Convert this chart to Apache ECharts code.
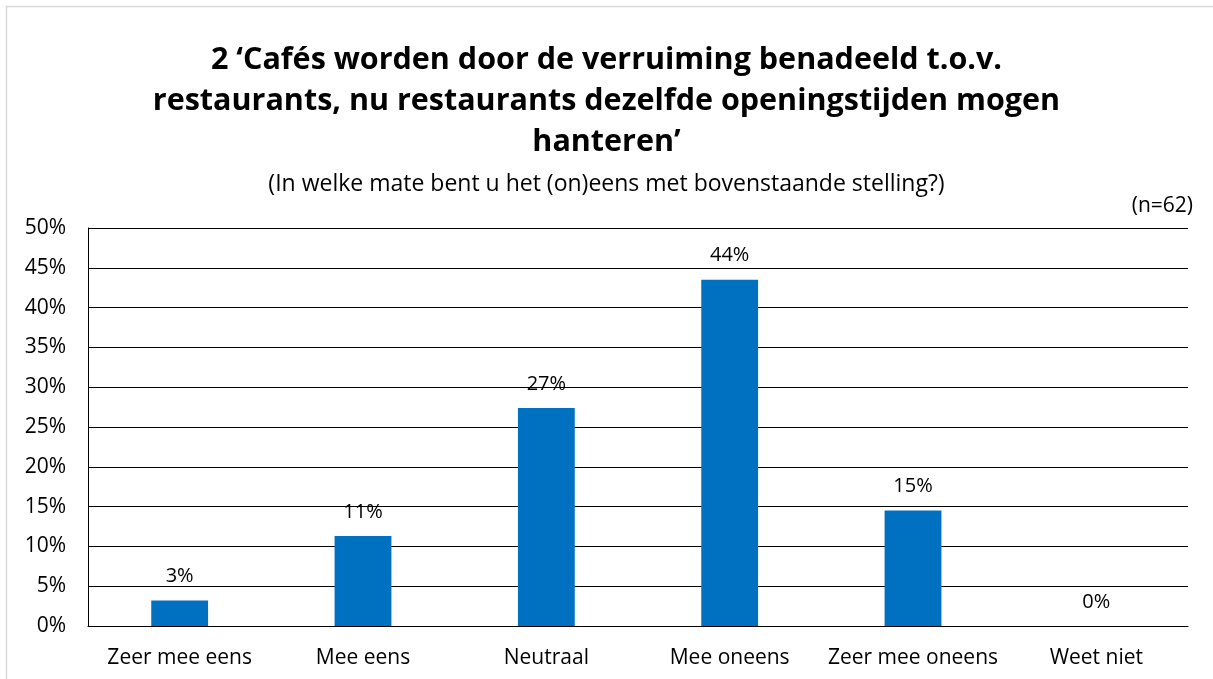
<!DOCTYPE html>
<html>
<head>
<meta charset="utf-8">
<script src="https://cdn.jsdelivr.net/npm/echarts@6/dist/echarts.min.js"></script>
<style>
  html, body { margin: 0; padding: 0; background: #fff; }
  #chart { width: 1213px; height: 679px; }
</style>
</head>
<body>
<div id="chart"></div>
<script>
// antwoordcategorieën en percentages (n=62)
const categories = ['Zeer mee eens', 'Mee eens', 'Neutraal', 'Mee oneens', 'Zeer mee oneens', 'Weet niet']
const percentages = [3.2, 11.3, 27.4, 43.5, 14.5, 0]
const valueLabels = ['3%', '11%', '27%', '44%', '15%', '0%']

const titleLines = [
  '2 \u2018Cafés worden door de verruiming benadeeld t.o.v.',
  'restaurants, nu restaurants dezelfde openingstijden mogen',
  'hanteren\u2019'
]
const subtitleText = '(In welke mate bent u het (on)eens met bovenstaande stelling?)'
const sampleText = '(n=62)'

const FONT = '"Open Sans", "Noto Sans", sans-serif'

const chart = echarts.init(document.getElementById('chart'))

chart.setOption({
  backgroundColor: '#fff',
  animation: false,
  textStyle: { fontFamily: FONT },
  title: [
    {
      text: titleLines.join('\n'),
      left: 'center',
      top: 35,
      textStyle: { fontFamily: FONT, fontSize: 30.5, fontWeight: 'bold', color: '#000', lineHeight: 41 }
    },
    {
      text: subtitleText,
      left: 'center',
      top: 168,
      textStyle: { fontFamily: FONT, fontSize: 23, fontWeight: 'normal', color: '#000' }
    },
    {
      text: sampleText,
      right: 15,
      top: 191,
      textStyle: { fontFamily: FONT, fontSize: 21, fontWeight: 'normal', color: '#000' }
    }
  ],
  graphic: [
    {
      type: 'rect',
      shape: { x: 6.5, y: 6.5, width: 1220, height: 700 },
      style: { fill: 'none', stroke: '#d9d9d9', lineWidth: 1.5 },
      silent: true
    }
  ],
  grid: { left: 88, right: 25, top: 228, bottom: 53, containLabel: false },
  xAxis: {
    type: 'category',
    data: categories,
    axisLine: { lineStyle: { color: '#000', width: 1 } },
    axisTick: { show: false },
    axisLabel: { color: '#000', fontSize: 21, margin: 22, interval: 0, fontFamily: FONT }
  },
  yAxis: {
    type: 'value',
    min: 0,
    max: 50,
    interval: 5,
    axisLine: { show: true, lineStyle: { color: '#000', width: 1 } },
    axisTick: { show: false },
    splitLine: { lineStyle: { color: '#000', width: 1 } },
    axisLabel: { color: '#000', fontSize: 21, margin: 22, fontFamily: FONT, formatter: '{value}%' }
  },
  series: [
    {
      type: 'bar',
      data: percentages,
      barWidth: '31%',
      itemStyle: { color: '#0070C0' },
      label: {
        show: true,
        position: 'top',
        distance: 14,
        color: '#000',
        fontSize: 20,
        fontFamily: FONT,
        formatter: (p) => valueLabels[p.dataIndex]
      }
    }
  ]
})
</script>
</body>
</html>
